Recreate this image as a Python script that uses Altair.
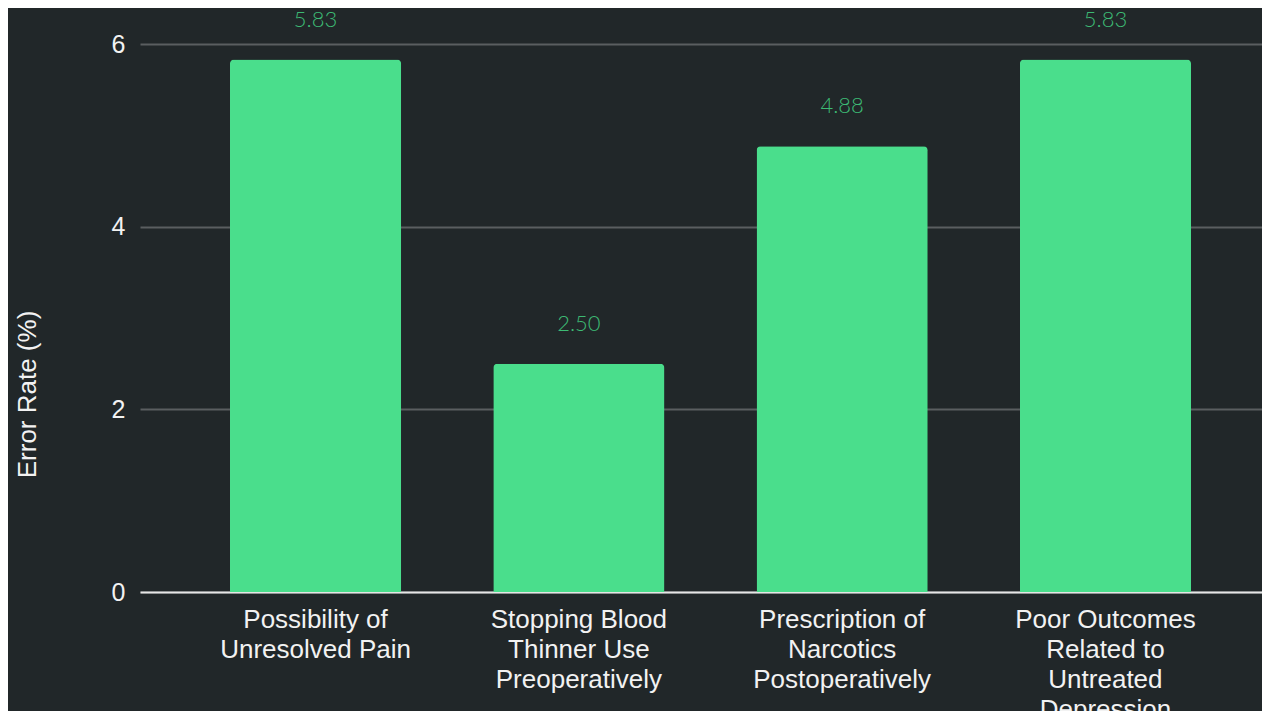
import altair as alt
import pandas as pd

categories = [
    "Possibility of Unresolved Pain",
    "Stopping Blood Thinner Use Preoperatively",
    "Prescription of Narcotics Postoperatively",
    "Poor Outcomes Related to Untreated Depression",
]
label_lines = [
    ["Possibility of", "Unresolved Pain"],
    ["Stopping Blood", "Thinner Use", "Preoperatively"],
    ["Prescription of", "Narcotics", "Postoperatively"],
    ["Poor Outcomes", "Related to", "Untreated", "Depression"],
]
values = [5.83, 2.50, 4.88, 5.83]
y_ticks = [0, 2, 4, 6]

df = pd.DataFrame({"category": categories, "value": values,
                   "label": [f"{v:.2f}" for v in values]})

BG = "#212729"
BAR = "#4ade8c"
TXT_GREEN = "#3dba74"

label_expr = "{" + ", ".join(
    f"'{c}': {label_lines[i]!r}" for i, c in enumerate(categories)
) + "}[datum.value]"

x_enc = alt.X(
    "category:N",
    sort=categories,
    scale=alt.Scale(paddingInner=0.35, paddingOuter=0.3057, align=0.559),
    axis=alt.Axis(
        title=None,
        labelAngle=0,
        labelExpr=label_expr,
        labelFont="Liberation Sans",
        labelFontSize=26,
        labelLineHeight=30,
        labelColor="#f2f2f2",
        labelPadding=14,
        labelBaseline="top",
        ticks=False,
        domain=True,
        domainColor="#e6e6e6",
        domainWidth=2,
        grid=False,
        labelLimit=400,
    ),
)

y_scale = alt.Scale(domain=[0, 6], nice=False)

bars = alt.Chart(df).mark_bar(
    color=BAR, cornerRadiusTopLeft=4, cornerRadiusTopRight=4
).encode(
    x=x_enc,
    y=alt.Y(
        "value:Q",
        scale=y_scale,
        axis=alt.Axis(
            values=y_ticks,
            format="d",
            title="Error Rate (%)",
            titleFont="Liberation Sans",
            titleFontSize=26,
            titleFontWeight="normal",
            titleColor="#f2f2f2",
            titleAngle=-90,
            titleX=-113,
            titleY=350,
            titleAlign="center",
            titleBaseline="middle",
            labelFont="Liberation Sans",
            labelFontSize=25,
            labelColor="#f2f2f2",
            labelPadding=15,
            ticks=False,
            domain=False,
            grid=True,
            gridColor="#5a5e60",
            gridWidth=2,
        ),
    ),
)

texts = alt.Chart(df).mark_text(
    font="Lato", fontWeight=300, fontSize=22, color=TXT_GREEN,
    baseline="middle", dy=-40, clip=False
).encode(
    x=alt.X("category:N", sort=categories),
    y=alt.Y("value:Q", scale=y_scale),
    text="label:N",
)

chart = alt.layer(bars, texts).properties(
    width=1122,
    height=548,
    background=BG,
    padding={"left": 132, "top": 36, "right": 0, "bottom": 119},
    autosize=alt.AutoSizeParams(type="none"),
).configure_view(stroke=None)

chart.save("out.html", embed_options={"renderer": "svg", "actions": False})
